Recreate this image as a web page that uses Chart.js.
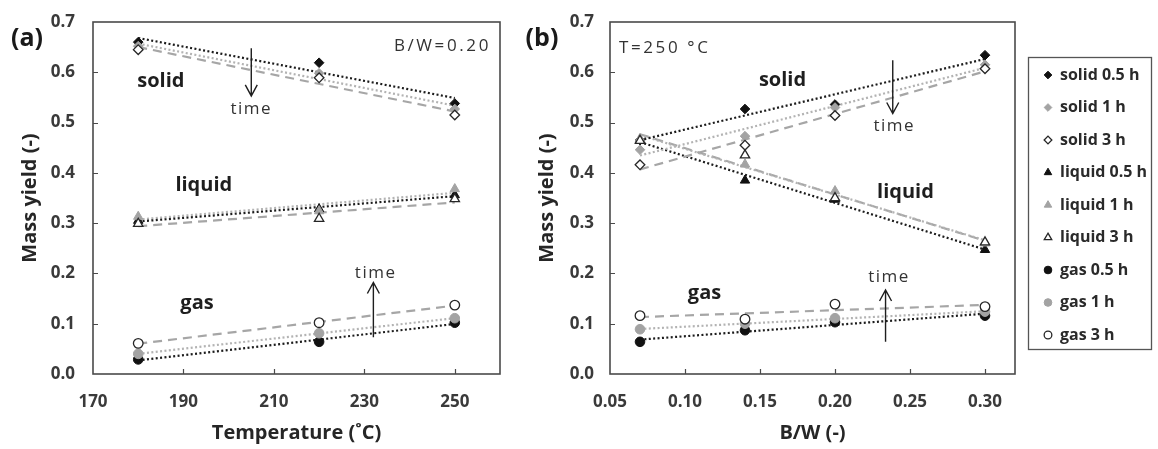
<!DOCTYPE html>
<html>
<head>
<meta charset="utf-8">
<script src="https://cdn.jsdelivr.net/npm/chart.js@4.4.0/dist/chart.umd.min.js"></script>
<style>
  html, body { margin: 0; padding: 0; background: #fff; }
  #wrap { position: relative; width: 1158px; height: 449px; overflow: hidden; }
  #chartA { position: absolute; left: 0; top: 0; }
  #chartB { position: absolute; left: 515px; top: 0; }
</style>
</head>
<body>
<div id="wrap">
  <canvas id="chartA" width="515" height="449" style="width:515px;height:449px"></canvas>
  <canvas id="chartB" width="643" height="449" style="width:643px;height:449px"></canvas>
</div>
<script>
// ---- data -------------------------------------------------------------
const seriesNames = ['solid 0.5 h', 'solid 1 h', 'solid 3 h',
                     'liquid 0.5 h', 'liquid 1 h', 'liquid 3 h',
                     'gas 0.5 h', 'gas 1 h', 'gas 3 h'];
const yTicks = [0, 0.1, 0.2, 0.3, 0.4, 0.5, 0.6, 0.7];
const tempTicks = [170, 190, 210, 230, 250];
const ratioTicks = [0.05, 0.10, 0.15, 0.20, 0.25, 0.30];

// (a) temperature series, B/W = 0.20
const tempC = [180, 220, 250];
const solidT05 = [0.660, 0.619, 0.538];
const solidT1 = [0.652, 0.598, 0.527];
const solidT3 = [0.645, 0.589, 0.515];
const liquidT05 = [0.305, 0.328, 0.356];
const liquidT1 = [0.313, 0.324, 0.368];
const liquidT3 = [0.299, 0.309, 0.348];
const gasT05 = [0.029, 0.064, 0.102];
const gasT1 = [0.040, 0.081, 0.111];
const gasT3 = [0.061, 0.102, 0.137];

// (b) biomass/water ratio series, T = 250 °C
const ratioBW = [0.07, 0.14, 0.20, 0.30];
const solidR05 = [0.465, 0.527, 0.536, 0.634];
const solidR1 = [0.446, 0.473, 0.530, 0.615];
const solidR3 = [0.416, 0.455, 0.514, 0.607];
const liquidR05 = [0.466, 0.385, 0.347, 0.247];
const liquidR1 = [0.468, 0.417, 0.364, 0.260];
const liquidR3 = [0.464, 0.435, 0.350, 0.262];
const gasR05 = [0.064, 0.087, 0.103, 0.116];
const gasR1 = [0.089, 0.100, 0.111, 0.124];
const gasR3 = [0.116, 0.109, 0.139, 0.134];

const seriesA = [solidT05, solidT1, solidT3, liquidT05, liquidT1, liquidT3, gasT05, gasT1, gasT3];
const seriesB = [solidR05, solidR1, solidR3, liquidR05, liquidR1, liquidR3, gasR05, gasR1, gasR3];

// ---- styles -----------------------------------------------------------
const FONT = '"Open Sans", Lato, sans-serif';
const NOTE_FONT = '"Open Sans", "DejaVu Sans", sans-serif';
const SHAPES = ['rectRot', 'triangle', 'circle'];
const RADII = [4.8, 5.4, 4.8];
const FILLS = ['#111111', '#a3a3a3', '#ffffff'];
const EDGES = ['#111111', '#a3a3a3', '#262626'];
const TRENDS = [
  { color: '#1c1c1c', dash: [2, 2.4] },
  { color: '#b3b3b3', dash: [2, 2.4] },
  { color: '#a6a6a6', dash: [9, 6] },
];

function markerStyle(i) {
  const t = i % 3, p = Math.floor(i / 3);
  return {
    pointStyle: SHAPES[p],
    radius: RADII[p],
    fill: FILLS[t],
    edge: EDGES[t],
    edgeWidth: t === 2 ? 1.3 : 1,
  };
}

// least-squares straight line over the measured points
function linearFit(xs, ys) {
  const n = xs.length;
  const mx = xs.reduce((a, b) => a + b, 0) / n;
  const my = ys.reduce((a, b) => a + b, 0) / n;
  let sxy = 0, sxx = 0;
  for (let k = 0; k < n; k++) {
    sxy += (xs[k] - mx) * (ys[k] - my);
    sxx += (xs[k] - mx) ** 2;
  }
  const b = sxy / sxx;
  const a = my - b * mx;
  const x0 = xs[0], x1 = xs[n - 1];
  return [{ x: x0, y: a + b * x0 }, { x: x1, y: a + b * x1 }];
}

function buildDatasets(xs, series) {
  const marks = series.map((ys, i) => {
    const m = markerStyle(i);
    return {
      label: seriesNames[i],
      data: xs.map((x, k) => ({ x, y: ys[k] })),
      showLine: false,
      pointStyle: m.pointStyle,
      pointRadius: m.radius,
      pointHoverRadius: m.radius,
      pointBackgroundColor: m.fill,
      pointBorderColor: m.edge,
      pointBorderWidth: m.edgeWidth,
      order: 20 - i,
    };
  });
  const trends = series.map((ys, i) => {
    const tr = TRENDS[i % 3];
    return {
      label: seriesNames[i] + ' fit',
      data: linearFit(xs, ys),
      showLine: true,
      borderColor: tr.color,
      borderDash: tr.dash,
      borderWidth: 2.2,
      pointRadius: 0,
      order: 100,
    };
  });
  return trends.concat(marks);
}

function drawArrow(ctx, x, y0, y1) {
  // arrow from y0 to y1, open head at y1
  const dir = y1 > y0 ? 1 : -1;
  ctx.beginPath();
  ctx.moveTo(x, y0);
  ctx.lineTo(x, y1);
  ctx.moveTo(x - 6, y1 - dir * 11);
  ctx.lineTo(x, y1);
  ctx.lineTo(x + 6, y1 - dir * 11);
  ctx.stroke();
}

// frame, inward ticks, phase labels, arrows and panel tags
const panelNotes = {
  id: 'panelNotes',
  beforeDatasetsDraw(chart) {
    const { ctx, chartArea: ca, scales: { x, y } } = chart;
    ctx.save();
    ctx.strokeStyle = '#4a4a4a';
    ctx.lineWidth = 1.2;
    ctx.beginPath();
    x.ticks.forEach(t => {
      const px = Math.round(x.getPixelForValue(t.value)) + 0.5;
      if (px <= ca.left + 2 || px >= ca.right - 2) return;
      ctx.moveTo(px, ca.bottom);
      ctx.lineTo(px, ca.bottom - 5);
    });
    y.ticks.forEach(t => {
      const py = Math.round(y.getPixelForValue(t.value)) + 0.5;
      if (py <= ca.top + 2 || py >= ca.bottom - 2) return;
      ctx.moveTo(ca.left, py);
      ctx.lineTo(ca.left + 5, py);
    });
    ctx.stroke();
    ctx.lineWidth = 1.6;
    ctx.strokeRect(ca.left, ca.top, ca.right - ca.left, ca.bottom - ca.top);
    ctx.restore();
  },
  afterDatasetsDraw(chart, args, opts) {
    const { ctx, scales: { x, y } } = chart;
    ctx.save();
    ctx.fillStyle = '#1e1e1e';
    ctx.textBaseline = 'middle';

    ctx.font = `bold 20px ${FONT}`;
    ctx.textAlign = 'center';
    (opts.phases || []).forEach(p => {
      ctx.fillText(p.text, x.getPixelForValue(p.x), y.getPixelForValue(p.y));
    });

    ctx.strokeStyle = '#1e1e1e';
    ctx.lineWidth = 1.4;
    ctx.font = `17px ${NOTE_FONT}`;
    ctx.fillStyle = '#333';
    if ('letterSpacing' in ctx) ctx.letterSpacing = '1.5px';
    (opts.arrows || []).forEach(a => {
      const px = x.getPixelForValue(a.x);
      drawArrow(ctx, px, y.getPixelForValue(a.from), y.getPixelForValue(a.to));
      ctx.fillText('time', x.getPixelForValue(a.labelX), y.getPixelForValue(a.labelY));
    });

    if (opts.condition) {
      const c = opts.condition;
      ctx.textAlign = c.align;
      if ('letterSpacing' in ctx) ctx.letterSpacing = '2.6px';
      ctx.fillText(c.text, x.getPixelForValue(c.x), y.getPixelForValue(c.y));
    }
    if ('letterSpacing' in ctx) ctx.letterSpacing = '0px';

    if (opts.tag) {
      ctx.font = `bold 25px ${FONT}`;
      ctx.fillStyle = '#1a1a1a';
      ctx.textAlign = 'center';
      ctx.fillText(opts.tag.text, opts.tag.px, opts.tag.py);
    }
    ctx.restore();
  },
};

// boxed marker legend to the right of panel (b)
const sideLegend = {
  id: 'sideLegend',
  afterDraw(chart, args, opts) {
    if (!opts.box) return;
    const { ctx } = chart;
    const b = opts.box;
    ctx.save();
    ctx.strokeStyle = '#555';
    ctx.lineWidth = 1.3;
    ctx.strokeRect(b.left + 0.5, b.top + 0.5, b.width, b.height);
    ctx.font = `bold 16px ${FONT}`;
    ctx.textAlign = 'left';
    ctx.textBaseline = 'middle';
    seriesNames.forEach((name, i) => {
      const m = markerStyle(i);
      const cy = opts.firstY + i * opts.step;
      ctx.fillStyle = m.fill;
      ctx.strokeStyle = m.edge;
      ctx.lineWidth = m.edgeWidth;
      Chart.helpers.drawPoint(ctx, {
        pointStyle: m.pointStyle, radius: m.radius * 0.8, rotation: 0, borderWidth: m.edgeWidth,
      }, opts.markX, cy);
      ctx.fillStyle = '#2a2a2a';
      ctx.fillText(name, opts.textX, cy);
    });
    ctx.restore();
  },
};

function baseOptions(cfg) {
  return {
    responsive: false,
    animation: false,
    events: [],
    layout: { padding: { top: 22, right: cfg.padRight, left: 0, bottom: 0 } },
    plugins: {
      legend: { display: false },
      tooltip: { enabled: false },
      panelNotes: cfg.notes,
      sideLegend: cfg.legend || {},
    },
    scales: {
      x: {
        type: 'linear',
        min: cfg.xMin, max: cfg.xMax,
        grid: { display: false },
        border: { display: false },
        afterBuildTicks: s => { s.ticks = cfg.xTicks.map(v => ({ value: v })); },
        ticks: {
          padding: 10,
          color: '#3a3a3a',
          font: { family: FONT, size: 17, weight: 'bold' },
          callback: v => v.toFixed(cfg.xDigits),
        },
        title: {
          display: true, text: cfg.xTitle, color: '#262626',
          font: { family: FONT, size: 20, weight: 'bold' },
          padding: { top: 0, bottom: 4 },
        },
        afterFit: s => { s.height = 75; },
      },
      y: {
        type: 'linear',
        min: 0, max: 0.7,
        grid: { display: false },
        border: { display: false },
        afterBuildTicks: s => { s.ticks = yTicks.map(v => ({ value: v })); },
        ticks: {
          padding: cfg.yTickPad,
          color: '#3a3a3a',
          font: { family: FONT, size: 17, weight: 'bold' },
          callback: v => v.toFixed(1),
        },
        title: {
          display: true, text: 'Mass yield (-)', color: '#262626',
          font: { family: FONT, size: 20, weight: 'bold' },
          padding: { top: cfg.yTitlePad, bottom: 0 },
        },
        afterFit: s => { s.width = cfg.yWidth; },
      },
    },
  };
}

new Chart(document.getElementById('chartA'), {
  type: 'scatter',
  data: { datasets: buildDatasets(tempC, seriesA) },
  options: baseOptions({
    padRight: 15, yWidth: 93, yTitlePad: 18, yTickPad: 10,
    xMin: 170, xMax: 260, xTicks: tempTicks, xDigits: 0,
    xTitle: 'Temperature (\u02DAC)',
    notes: {
      phases: [
        { text: 'solid', x: 185, y: 0.583 },
        { text: 'liquid', x: 194.5, y: 0.375 },
        { text: 'gas', x: 193, y: 0.14 },
      ],
      arrows: [
        { x: 205, from: 0.648, to: 0.553, labelX: 205, labelY: 0.526 },
        { x: 232, from: 0.073, to: 0.182, labelX: 232.5, labelY: 0.201 },
      ],
      condition: { text: 'B/W=0.20', x: 258, y: 0.651, align: 'right' },
      tag: { text: '(a)', px: 27, py: 39 },
    },
  }),
  plugins: [panelNotes, sideLegend],
});

new Chart(document.getElementById('chartB'), {
  type: 'scatter',
  data: { datasets: buildDatasets(ratioBW, seriesB) },
  options: baseOptions({
    padRight: 143, yWidth: 95, yTitlePad: 20, yTickPad: 8,
    xMin: 0.05, xMax: 0.32, xTicks: ratioTicks, xDigits: 2,
    xTitle: 'B/W (-)',
    notes: {
      phases: [
        { text: 'solid', x: 0.165, y: 0.585 },
        { text: 'liquid', x: 0.247, y: 0.362 },
        { text: 'gas', x: 0.113, y: 0.161 },
      ],
      arrows: [
        { x: 0.2385, from: 0.624, to: 0.518, labelX: 0.2395, labelY: 0.493 },
        { x: 0.2337, from: 0.064, to: 0.167, labelX: 0.236, labelY: 0.192 },
      ],
      condition: { text: 'T=250 \u00B0C', x: 0.056, y: 0.648, align: 'left' },
      tag: { text: '(b)', px: 27, py: 39 },
    },
    legend: {
      box: { left: 513, top: 57, width: 123, height: 292 },
      firstY: 75, step: 32.5, markX: 533, textX: 545,
    },
  }),
  plugins: [panelNotes, sideLegend],
});
</script>
</body>
</html>
